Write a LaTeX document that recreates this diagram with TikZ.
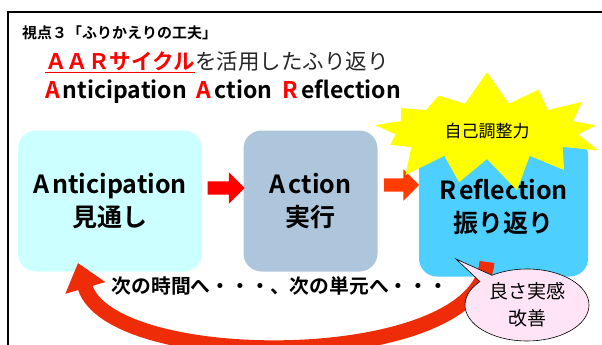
\documentclass[tikz,border=0pt]{standalone}
\usepackage{fontspec}
\setmainfont{Noto Sans CJK JP}[BoldFont={* Bold}]
\usetikzlibrary{calc,arrows.meta,shapes.arrows,shapes.symbols,shapes.callouts}
\definecolor{aarred}{RGB}{255, 0, 0}
\definecolor{aarorange}{RGB}{255, 60, 0}
\definecolor{anticyan}{RGB}{204, 255, 255}
\definecolor{actiongray}{RGB}{173, 198, 220}
\definecolor{reflblue}{RGB}{77, 207, 255}
\definecolor{staryellow}{RGB}{255, 255, 0}
\definecolor{bubblepink}{RGB}{255, 228, 246}
\definecolor{loopred}{RGB}{238, 45, 8}
\definecolor{titlegray}{RGB}{38, 38, 38}

\begin{document}
\begin{tikzpicture}[x=1pt, y=-1pt,
  stagebox/.style={rounded corners=18pt, inner sep=0pt, align=center,
    font=\bfseries\fontsize{25}{33}\selectfont},
  flowarrow/.style={single arrow, inner sep=6.5pt, minimum height=37pt,
    minimum width=31pt, single arrow head extend=9pt, single arrow head indent=0pt}]
\useasboundingbox (0,0) rectangle (602,345);
\clip (0,0) rectangle (602,345);

% Frame
\draw[line width=1.4pt] (8,345) -- (8,12) -- (602,12);

% Headings
\node[anchor=west, inner sep=0pt, font=\bfseries\fontsize{15}{15}\selectfont] (viewpoint) at (22,33) {視点３「ふりかえりの工夫」};
\node[anchor=west, inner sep=0pt, aarred, font=\bfseries\fontsize{21.5}{21.5}\selectfont] (aar) at (45,61) {ＡＡＲサイクル};
\node[anchor=base west, inner sep=0pt, titlegray, font=\fontsize{21.5}{21.5}\selectfont] (usage) at (aar.base east) {を活用したふり返り};
\draw[aarred, line width=1pt] ($(aar.south west)+(0,2)$) -- ($(aar.south east)+(0,2)$);
\node[anchor=west, inner sep=0pt, font=\bfseries\fontsize{23}{23}\selectfont] (aarwords) at (45,92)
  {{\color{aarred}A}\kern3pt nticipation\hspace{10pt}{\color{aarred}A}\kern3pt ction\hspace{10pt}{\color{aarred}R}\kern3pt eflection};

% Three stages
\node[stagebox, fill=anticyan, minimum width=184pt, minimum height=141pt] (anti) at (110,201)
  {A\kern3pt nticipation\\見通し};
\node[stagebox, fill=actiongray, minimum width=134pt, minimum height=141pt] (act) at (310.5,201)
  {A\kern3pt ction\\実行};
\node[stagebox, fill=reflblue, minimum width=169pt, minimum height=139pt] (refl) at (503.5,207)
  {R\kern3pt eflection\\振り返り};

% Arrows between stages
\node[flowarrow, fill=aarred] (arrowone) at ($(anti.east)!0.5!(act.west)+(0,-13)$) {};
\node[flowarrow, fill=aarorange, minimum height=35pt] (arrowtwo) at ($(act.east)!0.5!(refl.west)+(0,-19)$) {};

% Self-regulation burst
\node[starburst, fill=staryellow, starburst points=13, starburst point height=34pt,
  random starburst=7, minimum width=252pt, minimum height=124pt,
  font=\fontsize{17}{17}\selectfont] (burst) at (487,131) {自己調整力};

% Loop back to the next cycle
\coordinate (loopstart) at (487,262);
\coordinate (loopend) at (78,263);
\draw[loopred, line width=15pt, -{Triangle[length=26pt, width=40pt]}]
  (loopstart) .. controls (478,372) and (110,372) .. (loopend);
\node[font=\bfseries\fontsize{19.8}{19.8}\selectfont, inner sep=0pt] (nexttime) at (280,286)
  {次の時間へ・・・、次の単元へ・・・};

% Speech bubble
\node[ellipse callout, draw=black, line width=0.6pt, fill=bubblepink,
  minimum width=124pt, minimum height=72pt, align=center, inner sep=0pt,
  callout absolute pointer={(456,259)},
  font=\fontsize{19}{27}\selectfont] (goodness) at (527,305) {良さ実感\\改善};
\end{tikzpicture}
\end{document}
